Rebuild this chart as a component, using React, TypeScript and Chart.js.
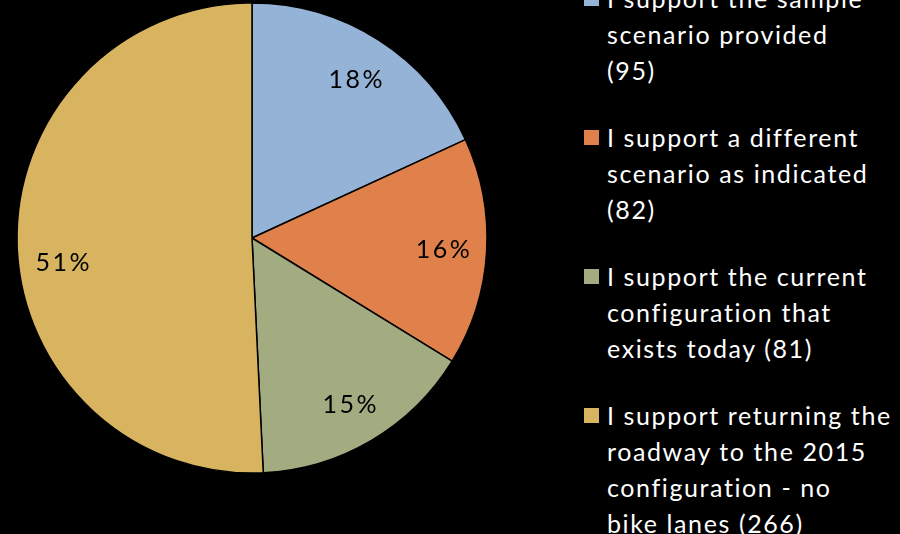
import React, { useEffect, useRef } from "react";
import { Chart, registerables } from "chart.js";

Chart.register(...registerables);

const legendLines: string[][] = [
  ["I support the sample", "scenario provided", "(95)"],
  ["I support a different", "scenario as indicated", "(82)"],
  ["I support the current", "configuration that", "exists today (81)"],
  ["I support returning the", "roadway to the 2015", "configuration - no", "bike lanes (266)"],
];
const categories: string[] = legendLines.map((l) => l.join(" "));
const values: number[] = [95, 82, 81, 266];
const colors: string[] = ["#95B3D7", "#E0804A", "#A3AB80", "#D8B460"];

const FONT = "Lato, 'Open Sans', sans-serif";
// label vertical nudges (pixels), styling only
const labelNudgeY = [2, 1, 3, 20];

const labelPlugin = {
  id: "sliceLabels",
  afterDatasetsDraw(chart: any) {
    const ctx = chart.ctx;
    const meta = chart.getDatasetMeta(0);
    const data = chart.data.datasets[0].data as number[];
    const total = data.reduce((a, b) => a + b, 0);
    ctx.save();
    ctx.fillStyle = "#000000";
    ctx.font = `25px ${FONT}`;
    try {
      (ctx as any).letterSpacing = "2.5px";
    } catch (e) {}
    ctx.textAlign = "center";
    ctx.textBaseline = "middle";
    meta.data.forEach((arc: any, i: number) => {
      const p = arc.getProps(["x", "y", "startAngle", "endAngle", "outerRadius"], true);
      const mid = (p.startAngle + p.endAngle) / 2;
      const r = p.outerRadius * 0.81;
      const x = p.x + Math.cos(mid) * r + 2;
      const y = p.y + Math.sin(mid) * r + labelNudgeY[i];
      ctx.fillText(`${Math.round((data[i] / total) * 100)}%`, x, y);
    });
    ctx.restore();
  },
};

export default function App() {
  const ref = useRef<HTMLCanvasElement | null>(null);
  useEffect(() => {
    if (!ref.current) return;
    const chart = new Chart(ref.current, {
      type: "pie",
      data: {
        labels: categories,
        datasets: [
          {
            data: values,
            backgroundColor: colors,
            borderColor: "#000000",
            borderWidth: 1.5,
          },
        ],
      },
      options: {
        animation: false,
        responsive: false,
        radius: 235,
        layout: { padding: 0 },
        plugins: {
          legend: { display: false },
          tooltip: { enabled: false },
        },
      },
      plugins: [labelPlugin],
    });
    return () => chart.destroy();
  }, []);

  return (
    <div
      style={{
        position: "fixed",
        left: 0,
        top: 0,
        width: 900,
        height: 534,
        background: "#000000",
        overflow: "hidden",
      }}
    >
      <canvas
        ref={ref}
        width={504}
        height={476}
        style={{ position: "absolute", left: 0, top: 0, width: 504, height: 476 }}
      />
      <div
        style={{
          position: "absolute",
          left: 584,
          top: -20,
          display: "flex",
          flexDirection: "column",
          gap: 31,
          fontFamily: FONT,
          fontSize: 25,
          lineHeight: "36px",
          letterSpacing: "1.6px",
          color: "#FFFFFF",
          whiteSpace: "nowrap",
        }}
      >
        {legendLines.map((lines, i) => (
          <div key={i} style={{ position: "relative", paddingLeft: 23 }}>
            <div
              style={{
                position: "absolute",
                left: 0,
                top: 11,
                width: 15,
                height: 15,
                background: colors[i],
              }}
            />
            {lines.map((t, j) => (
              <div key={j}>{t}</div>
            ))}
          </div>
        ))}
      </div>
    </div>
  );
}
